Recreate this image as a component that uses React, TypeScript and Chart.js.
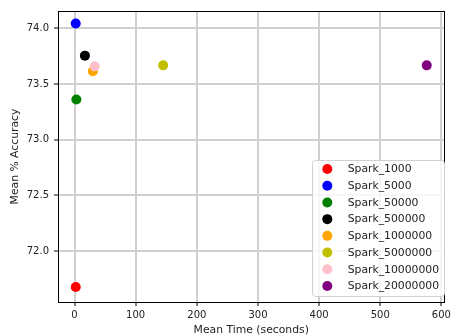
import React, { useEffect, useRef } from "react";
import { Chart, registerables } from "chart.js";

Chart.register(...registerables);

const seriesLabels = [
  "Spark_1000",
  "Spark_5000",
  "Spark_50000",
  "Spark_500000",
  "Spark_1000000",
  "Spark_5000000",
  "Spark_10000000",
  "Spark_20000000",
];
const meanTimes = [2, 2, 3, 17, 30, 145, 33, 576];
const meanAccuracy = [71.676, 74.042, 73.361, 73.754, 73.614, 73.667, 73.658, 73.667];
const seriesColors = ["#ff0000", "#0000ff", "#008000", "#000000", "#ffa500", "#bfbf00", "#ffc0cb", "#800080"];
const xTicks = [0, 100, 200, 300, 400, 500, 600];
const yTicks = [72.0, 72.5, 73.0, 73.5, 74.0];

const FONT = "'DejaVu Sans', sans-serif";

const framePlugin = {
  id: "frameAndLegend",
  afterDatasetsDraw(chart: any) {
    const { ctx, chartArea } = chart;
    const { left, right, top, bottom } = chartArea;
    ctx.save();
    // frame
    ctx.strokeStyle = "#000";
    ctx.lineWidth = 1;
    ctx.strokeRect(Math.round(left) + 0.5, Math.round(top) + 0.5, Math.round(right - left), Math.round(bottom - top));
    // legend
    const bx = 312.5, by = 160.5, bw = 132, bh = 136;
    ctx.fillStyle = "rgba(255,255,255,0.8)";
    ctx.strokeStyle = "#d0d0d0";
    ctx.beginPath();
    if ((ctx as any).roundRect) (ctx as any).roundRect(bx, by, bw, bh, 3);
    else ctx.rect(bx, by, bw, bh);
    ctx.fill();
    ctx.stroke();
    ctx.font = `10.8px ${FONT}`;
    ctx.textBaseline = "middle";
    ctx.textAlign = "left";
    chart.data.datasets.forEach((ds: any, i: number) => {
      const cy = 169 + i * 16.71;
      ctx.fillStyle = ds.backgroundColor;
      ctx.beginPath();
      ctx.arc(327.3, cy, 5, 0, Math.PI * 2);
      ctx.fill();
      ctx.fillStyle = "#222";
      ctx.fillText(ds.label, 347.7, cy + 0.5);
    });
    ctx.restore();
  },
};

export default function App() {
  const ref = useRef<HTMLCanvasElement>(null);
  useEffect(() => {
    if (!ref.current) return;
    const datasets = seriesLabels.map((label, i) => ({
      label,
      data: [{ x: meanTimes[i], y: meanAccuracy[i] }],
      backgroundColor: seriesColors[i],
      borderColor: seriesColors[i],
      borderWidth: 0,
      pointRadius: 5,
      pointHoverRadius: 5,
      order: -i,
    }));
    const chart = new Chart(ref.current, {
      type: "scatter",
      data: { datasets },
      plugins: [framePlugin],
      options: {
        animation: false,
        responsive: true,
        maintainAspectRatio: false,
        layout: { padding: { top: 9, right: 6, left: 0, bottom: 0 } },
        plugins: { legend: { display: false }, tooltip: { enabled: false } },
        scales: {
          x: {
            type: "linear",
            min: -27,
            max: 605,
            afterBuildTicks: (s: any) => {
              s.ticks = xTicks.map((v) => ({ value: v }));
            },
            afterFit: (s: any) => {
              s.height = 34;
            },
            grid: { color: "#d0d0d0", lineWidth: 2, tickColor: "#000", tickLength: 4, tickWidth: 1 },
            border: { display: false },
            ticks: { font: { family: FONT, size: 10 }, color: "#222", padding: 3, maxRotation: 0 },
            title: {
              display: true,
              text: "Mean Time (seconds)",
              font: { family: FONT, size: 10.8, lineHeight: 1 },
              color: "#222",
              padding: { top: 0, bottom: 0 },
            },
          },
          y: {
            type: "linear",
            min: 71.542,
            max: 74.155,
            afterBuildTicks: (s: any) => {
              s.ticks = yTicks.map((v) => ({ value: v }));
            },
            afterFit: (s: any) => {
              s.width = 58;
            },
            grid: { color: "#d0d0d0", lineWidth: 2, tickColor: "#000", tickLength: 4, tickWidth: 1 },
            border: { display: false },
            ticks: {
              font: { family: FONT, size: 10 },
              color: "#222",
              padding: 5,
              callback: (v: any) => Number(v).toFixed(1),
            },
            title: {
              display: true,
              text: "Mean % Accuracy",
              font: { family: FONT, size: 10.8, lineHeight: 1 },
              color: "#222",
              padding: { top: 9.6, bottom: 0 },
            },
          },
        },
      },
    });
    return () => chart.destroy();
  }, []);
  return (
    <div style={{ position: "fixed", left: 0, top: 0, width: 454, height: 336, background: "#fff" }}>
      <canvas ref={ref} />
    </div>
  );
}
